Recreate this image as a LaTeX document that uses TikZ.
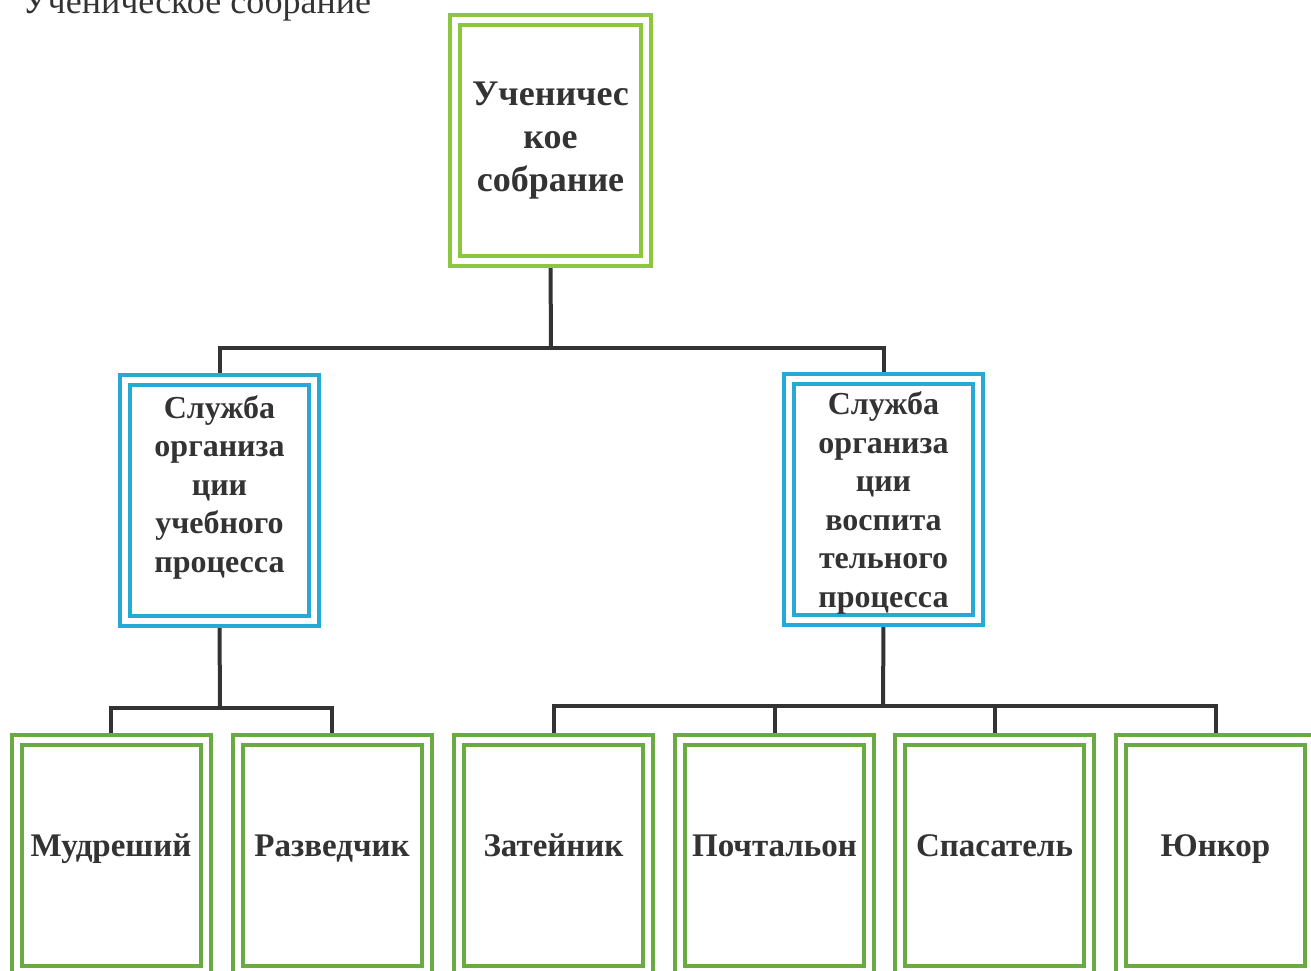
\documentclass[tikz,border=0pt]{standalone}
\usepackage{fontspec}
\setmainfont{Liberation Serif}
\usetikzlibrary{backgrounds}
\definecolor{lgreen}{HTML}{8CC63F}
\definecolor{dgreen}{HTML}{6AAA42}
\definecolor{sblue}{HTML}{27A9D6}
\definecolor{txt}{HTML}{333333}
\definecolor{lnk}{HTML}{333333}
\tikzset{
  dbox/.style={draw=#1, double=white, double distance=6pt, line width=4pt,
    align=center, text=txt, inner sep=0pt, anchor=center},
  topbox/.style={dbox=lgreen, minimum width=191pt, minimum height=241pt,
    font=\bfseries\fontsize{36}{43}\selectfont},
  midbox/.style={dbox=sblue, minimum width=189pt, minimum height=241pt,
    font=\bfseries\fontsize{32}{38.5}\selectfont},
  lowbox/.style={dbox=dgreen, minimum width=189pt, minimum height=231pt,
    font=\bfseries\fontsize{33}{40}\selectfont, text height=23pt, text depth=22pt},
  conn/.style={draw=lnk, line width=4pt}
}
\begin{document}
\begin{tikzpicture}[x=1pt, y=-1pt]
\useasboundingbox (0,0) rectangle (1311,971);
\node[anchor=base west, text=txt, font=\fontsize{36}{42}\selectfont, inner sep=0pt] (title) at (22,14) {Ученическое собрание};
\node[topbox] (top) at (550.5,140.5) {Ученичес\\кое\\собрание};
\node[midbox, text depth=33pt] (s1) at (219.5,500.5) {Служба\\организа\\ции\\учебного\\процесса};
\node[midbox, text depth=-7pt] (s2) at (883.5,499.5) {Служба\\организа\\ции\\воспита\\тельного\\процесса};
\node[lowbox] (b1) at (111,855.5) {Мудреший};
\node[lowbox] (b2) at (332,855.5) {Разведчик};
\node[lowbox] (b3) at (553.5,855.5) {Затейник};
\node[lowbox] (b4) at (774.5,855.5) {Почтальон};
\node[lowbox] (b5) at (994.5,855.5) {Спасатель};
\node[lowbox] (b6) at (1215.5,855.5) {Юнкор};
\coordinate (j1) at (551,348);
\coordinate (j2) at (220,708);
\coordinate (j3) at (883,706);
\begin{scope}[on background layer]
\draw[conn] (top.south) -- (j1);
\draw[conn] (s1.north) |- (j1) -| (s2.north);
\draw[conn] (s1.south) -- (j2);
\draw[conn] (b1.north) |- (j2) -| (b2.north);
\draw[conn] (s2.south) -- (j3);
\draw[conn] (b3.north) |- (j3) -| (b6.north);
\draw[conn] (b4.north) -- (b4.north |- j3);
\draw[conn] (b5.north) -- (b5.north |- j3);
\end{scope}
\end{tikzpicture}
\end{document}
